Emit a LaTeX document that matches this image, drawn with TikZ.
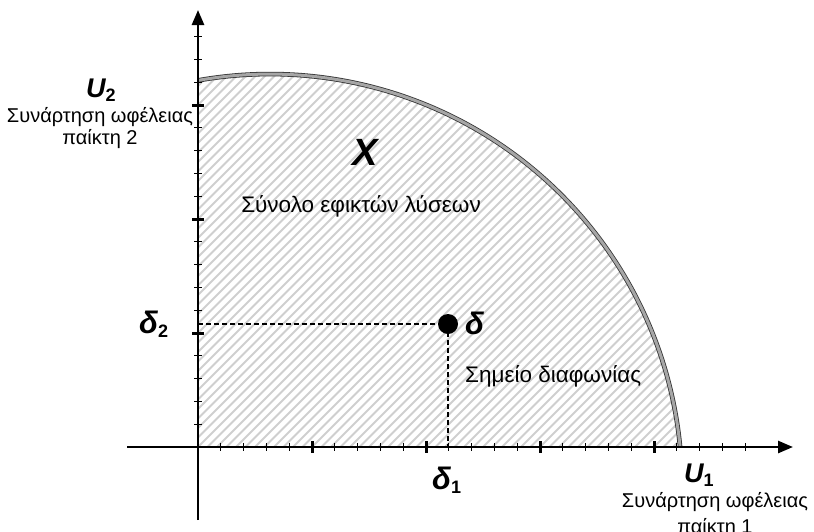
\documentclass[tikz,border=0pt]{standalone}
\usepackage{fontspec}
\setmainfont{Liberation Sans}
\usetikzlibrary{arrows.meta}
\begin{document}
\begin{tikzpicture}[x=1pt,y=-1pt,
  hatch/.style={line width=1.9pt,black!19},
  frontier/.style={line width=0.8pt,draw=black!80,double=black!35,double distance=3pt},
  axis/.style={line width=2.6pt,-{Triangle[length=15pt,width=12pt]}},
  minortick/.style={line width=1pt},
  majortick/.style={line width=3pt},
  guide/.style={line width=1.2pt,dash pattern=on 5pt off 3pt},
  big/.style={font=\fontsize{31}{34}\selectfont\bfseries\itshape},
  ulbl/.style={font=\fontsize{27}{30}\selectfont\bfseries\itshape},
  axlbl/.style={font=\fontsize{20}{24}\selectfont},
  lbl/.style={font=\fontsize{22.5}{26}\selectfont},
  inner sep=0pt]
\newcommand{\subx}[1]{\raisebox{-0.3ex}{\fontsize{18}{20}\selectfont\upshape #1}}
\useasboundingbox (0,0) rectangle (814,531);
\coordinate (O) at (198,447);
\coordinate (ytop) at (198,80.4);
\coordinate (ybot) at (198,520);
\coordinate (yend) at (198,10);
\coordinate (xbeg) at (127,447);
\coordinate (xend) at (793,447);
% hatched feasible set
\begin{scope}
\clip (O) -- (ytop) arc[start angle=-100.06, end angle=-5.43, radius=412] -- cycle;
\foreach \i in {-42,...,52} \draw[hatch] (198+9.5*\i,447) -- ++(420,-420);
\end{scope}
\draw[frontier] (ytop) arc[start angle=-100.06, end angle=-5.43, radius=412];
% axes
\draw[axis] (ybot) -- (yend);
\draw[axis] (xbeg) -- (xend);
\foreach \k in {1,...,24}{
  \pgfmathtruncatemacro{\m}{mod(\k,5)}
  \ifnum\m=0
    \draw[majortick] (198+22.8*\k,441) -- ++(0,12);
  \else
    \draw[minortick] (198+22.8*\k,443) -- ++(0,8);
  \fi}
\foreach \k in {1,...,18}{
  \pgfmathtruncatemacro{\m}{mod(\k,5)}
  \ifnum\m=0
    \draw[majortick] (192,447-22.8*\k) -- ++(12,0);
  \else
    \draw[minortick] (194,447-22.8*\k) -- ++(8,0);
  \fi}
% disagreement point
\node[circle,fill=black,minimum size=20pt] (d) at (448,324) {};
\coordinate (d2) at (198,324);
\coordinate (d1) at (448,447);
\draw[guide] (d2) -- (d.center);
\draw[guide] (d.center) -- (d1);
% labels
\node[ulbl,anchor=base west] (u2) at (86,97) {U\subx{2}};
\node[axlbl,anchor=base] (u2a) at (100,122) {Συνάρτηση ωφέλειας};
\node[axlbl,anchor=base] (u2b) at (100,144) {παίκτη 2};
\node[font=\fontsize{38}{42}\selectfont\bfseries\itshape,anchor=base] (X) at (365,165) {X};
\node[lbl,anchor=base] (Xl) at (361,212) {Σύνολο εφικτών λύσεων};
\node[big,anchor=base west] (dd2) at (139,333) {δ\subx{2}};
\node[big,anchor=base west] (dl) at (465,334) {δ};
\node[lbl,anchor=base west] (dlt) at (465,382) {Σημείο διαφωνίας};
\node[big,anchor=base west] (dd1) at (432,489) {δ\subx{1}};
\node[ulbl,anchor=base west] (u1) at (684,482) {U\subx{1}};
\node[axlbl,anchor=base] (u1a) at (715,507) {Συνάρτηση ωφέλειας};
\node[axlbl,anchor=base] (u1b) at (715,533) {παίκτη 1};
\end{tikzpicture}
\end{document}
